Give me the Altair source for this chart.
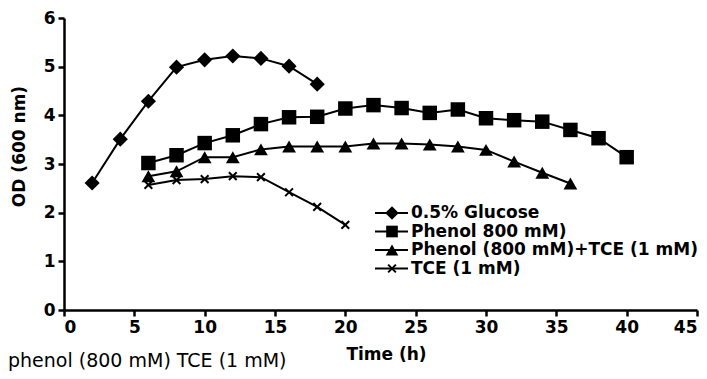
import altair as alt
import pandas as pd

# ---- data ----
series_names = ["0.5% Glucose", "Phenol 800 mM)", "Phenol (800 mM)+TCE (1 mM)", "TCE (1 mM)"]

glucose_t = [2, 4, 6, 8, 10, 12, 14, 16, 18]
glucose_od = [2.61, 3.51, 4.29, 4.99, 5.14, 5.22, 5.17, 5.01, 4.64]

phenol_t = [6, 8, 10, 12, 14, 16, 18, 20, 22, 24, 26, 28, 30, 32, 34, 36, 38, 40]
phenol_od = [3.02, 3.18, 3.43, 3.59, 3.82, 3.96, 3.97, 4.14, 4.21, 4.15, 4.05, 4.12,
             3.94, 3.90, 3.87, 3.70, 3.53, 3.14]

ptce_t = [6, 8, 10, 12, 14, 16, 18, 20, 22, 24, 26, 28, 30, 32, 34, 36]
ptce_od = [2.75, 2.85, 3.14, 3.14, 3.30, 3.36, 3.36, 3.36, 3.42, 3.42, 3.40, 3.36,
           3.29, 3.05, 2.82, 2.60]

tce_t = [6, 8, 10, 12, 14, 16, 18, 20]
tce_od = [2.57, 2.67, 2.69, 2.75, 2.73, 2.42, 2.12, 1.75]

x_ticks = [0, 5, 10, 15, 20, 25, 30, 35, 40, 45]
y_ticks = [0, 1, 2, 3, 4, 5, 6]

footer_text = "phenol (800 mM) TCE (1 mM)"

# ---- build table ----
rows = []
for name, ts, ods in zip(series_names,
                         [glucose_t, phenol_t, ptce_t, tce_t],
                         [glucose_od, phenol_od, ptce_od, tce_od]):
    for t, v in zip(ts, ods):
        rows.append({"series": name, "time": t, "od": v})
df = pd.DataFrame(rows)

FONT = "DejaVu Sans"
shapes = ["diamond", "square", "triangle-up", "M-1,-1L1,1M-1,1L1,-1"]
sizes = [230, 170, 200, 60]

x_enc = alt.X("time:Q", scale=alt.Scale(domain=[0, 45], nice=False),
              axis=alt.Axis(values=x_ticks, title="Time (h)", titleX=322, titleY=36,
                            titleBaseline="top", titleAnchor="middle"))
y_enc = alt.Y("od:Q", scale=alt.Scale(domain=[0, 6], nice=False),
              axis=alt.Axis(values=y_ticks, title="OD (600 nm)", titleX=-45, titleY=128,
                            titleAngle=-90, titleBaseline="middle", titleAnchor="middle"))

base = alt.Chart(df)

lines = base.mark_line(color="black", strokeWidth=2).encode(
    x=x_enc, y=y_enc, detail="series:N"
)

filled_pts = base.transform_filter(
    alt.FieldOneOfPredicate(field="series", oneOf=series_names[:3])
).mark_point(filled=True, color="black", opacity=1).encode(
    x="time:Q", y="od:Q",
    shape=alt.Shape("series:N", scale=alt.Scale(domain=series_names, range=shapes), legend=None),
    size=alt.Size("series:N", scale=alt.Scale(domain=series_names, range=sizes), legend=None),
)

x_pts = base.transform_filter(
    alt.FieldEqualPredicate(field="series", equal=series_names[3])
).mark_point(filled=False, color="black", strokeWidth=2, opacity=1,
             shape=shapes[3], size=sizes[3]).encode(
    x="time:Q", y="od:Q"
)

layers = [lines, filled_pts, x_pts]

# ---- manual legend ----
for i, name in enumerate(series_names):
    ly = 195 + 18.5 * i
    ldf = pd.DataFrame({"label": [name]})
    lc = alt.Chart(ldf)
    layers.append(lc.mark_rule(color="black", strokeWidth=2).encode(
        x=alt.value(311), x2=alt.value(344), y=alt.value(ly)))
    if i < 3:
        layers.append(lc.mark_point(filled=True, color="black", opacity=1,
                                    shape=shapes[i], size=sizes[i] * 0.8).encode(
            x=alt.value(328), y=alt.value(ly)))
    else:
        layers.append(lc.mark_point(filled=False, color="black", opacity=1, strokeWidth=2,
                                    shape=shapes[i], size=sizes[i]).encode(
            x=alt.value(328), y=alt.value(ly)))
    layers.append(lc.mark_text(align="left", baseline="middle", font=FONT, fontSize=17,
                               fontWeight="bold", color="black").encode(
        x=alt.value(347), y=alt.value(ly), text="label:N"))

footer = alt.Chart(pd.DataFrame({"label": [footer_text]})).mark_text(
    align="left", baseline="alphabetic", font=FONT, fontSize=19, color="black"
).encode(x=alt.value(-56), y=alt.value(349), text="label:N")
layers.append(footer)

chart = alt.layer(*layers).properties(
    width=633, height=292,
    autosize=alt.AutoSizeParams(type="none"),
    padding={"left": 56, "top": 10, "right": 2, "bottom": 61},
    background="white",
).configure_view(stroke=None).configure_axis(
    grid=False, domainColor="black", domainWidth=2.5, tickColor="black", tickWidth=2.5,
    tickSize=6, labelFont=FONT, labelFontSize=17, labelFontWeight="bold", labelColor="black",
    titleFont=FONT, titleFontSize=17, titleFontWeight="bold", titleColor="black",
    labelPadding=3,
)

chart.save("out.html", embed_options={"renderer": "svg", "actions": False})
